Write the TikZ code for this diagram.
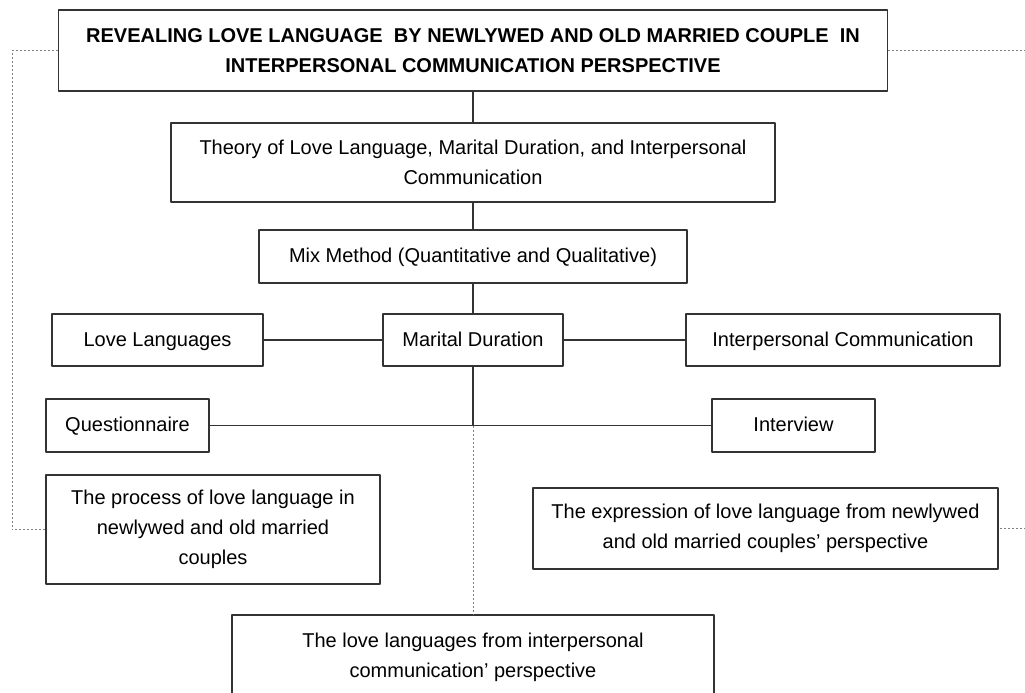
\documentclass[tikz,border=0pt]{standalone}
\usepackage{fontspec}
\setmainfont{Liberation Sans}
\begin{document}
\begin{tikzpicture}[x=1pt, y=-1pt, line join=round,
  font=\fontsize{20}{30}\selectfont,
  box/.style={draw=black!80, line width=1.5pt, align=center, inner sep=0pt},
  single/.style={box, text height=14, text depth=1.5},
  link/.style={draw=black!80, line width=1.5pt},
  dots/.style={draw=black!50, line width=1pt, dash pattern=on 2pt off 2pt}]
\clip (0,0) rectangle (1025,693);
% boxes
\node[box, minimum width=829, minimum height=81, font=\fontsize{20}{30}\selectfont\bfseries] (title) at (473,50.5)
  {REVEALING LOVE LANGUAGE\ \ BY NEWLYWED AND OLD MARRIED COUPLE\ \ IN\\INTERPERSONAL COMMUNICATION PERSPECTIVE};
\node[box, minimum width=604, minimum height=79] (theory) at (473,162.5)
  {Theory of Love Language, Marital Duration, and Interpersonal\\Communication};
\node[single, minimum width=428, minimum height=53] (mix) at (473,256.5) {Mix Method (Quantitative and Qualitative)};
\node[single, minimum width=211, minimum height=52] (love) at (157.5,340) {Love Languages};
\node[single, minimum width=180, minimum height=52] (mar) at (473,340) {Marital Duration};
\node[single, minimum width=314, minimum height=52] (inter) at (843,340) {Interpersonal Communication};
\node[single, minimum width=163, minimum height=53] (quest) at (127.5,425.5) {Questionnaire};
\node[single, minimum width=163, minimum height=53] (intv) at (793.5,425.5) {Interview};
\node[box, minimum width=334, minimum height=109] (proc) at (213,529.5)
  {The process of love language in\\newlywed and old married\\couples};
\node[box, minimum width=465, minimum height=81] (expr) at (765.5,528.5)
  {The expression of love language from newlywed\\and old married couples' perspective};
\node[box, minimum width=482, minimum height=84] (comm) at (473,657)
  {The love languages from interpersonal\\communication' perspective};
\path (mar.south |- quest.east) coordinate (j)
  (12,0) coordinate (lft) (1040,0) coordinate (rgt);
% connectors
\draw[link] (title)--(theory) (theory)--(mix) (mix)--(mar)
  (love)--(mar) (mar)--(inter) (mar)--(j) (quest)--(intv);
\draw[dots] (j)--(comm.north);
\draw[dots] (title.west)--(title.west -| lft) |- (proc.west);
\draw[dots] (title.east)--(title.east -| rgt) |- (expr.east);
\end{tikzpicture}
\end{document}
